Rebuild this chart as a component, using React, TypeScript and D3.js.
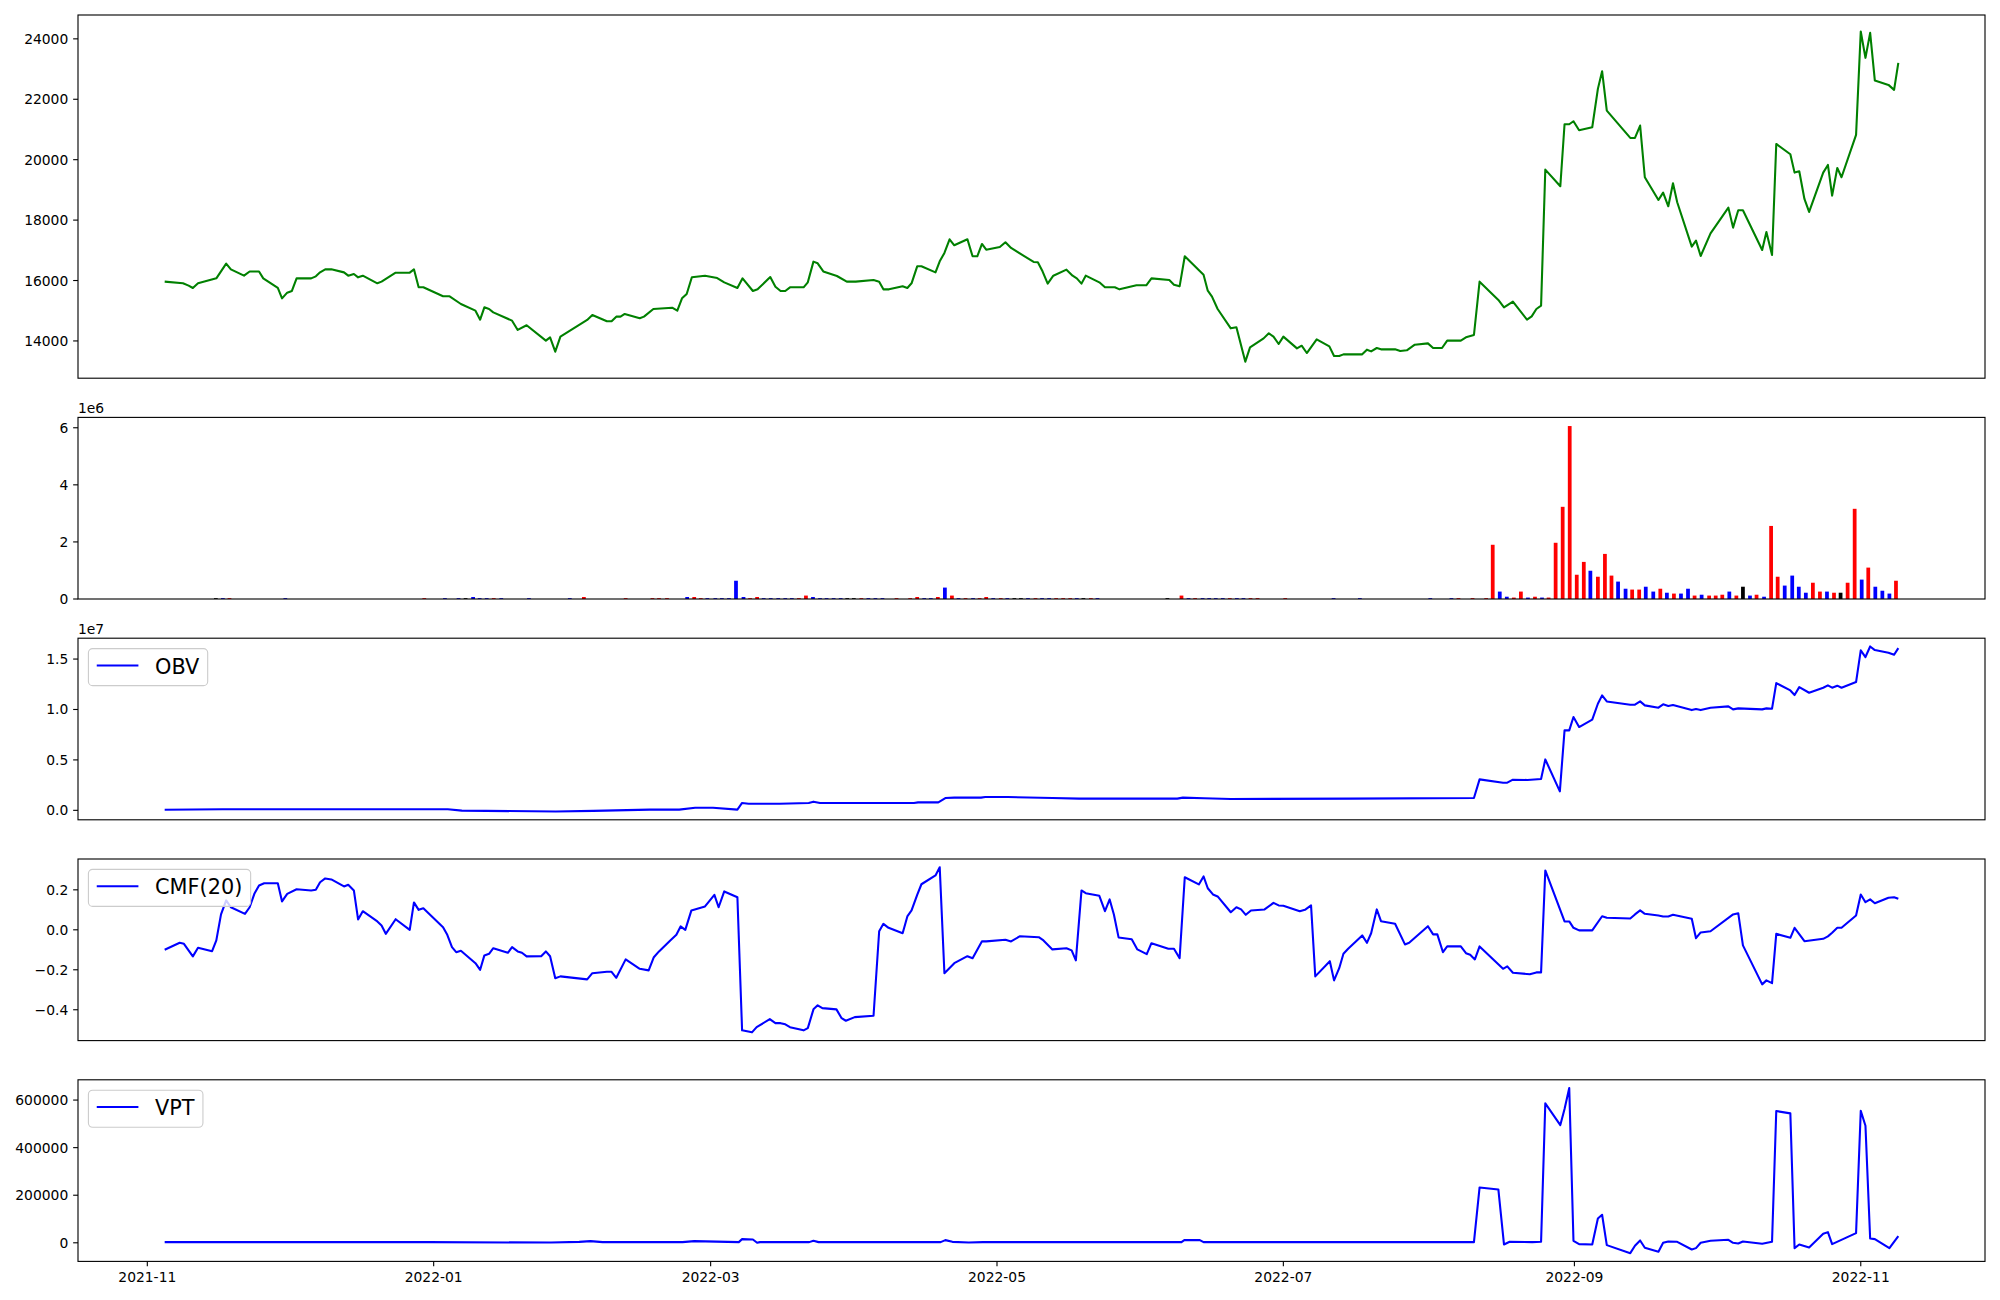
import React from "react";
import * as d3 from "d3";

// ---- data (x = days after 2021-11-01) ----
const BASE_DATE = Date.UTC(2021, 10, 1);
const xTickLabels = ["2021-11", "2022-01", "2022-03", "2022-05", "2022-07", "2022-09", "2022-11"];

const priceTicks = [14000, 16000, 18000, 20000, 22000, 24000];
const volumeTicks = [0, 2, 4, 6]; // x1e6
const obvTicks = [0, 0.5, 1.0, 1.5]; // x1e7
const cmfTicks = [-0.4, -0.2, 0.0, 0.2];
const vptTicks = [0, 200000, 400000, 600000];

const priceSeries: [number, number][] = [
  [3.7, 15963], [7.6, 15908], [8.8, 15830], [9.7, 15753], [10.8, 15908], [14.7, 16072], [16.8, 16559], [17.8, 16370],
  [20.6, 16160], [21.8, 16300], [23.8, 16300], [24.7, 16072], [27.8, 15753], [28.7, 15410], [29.8, 15598], [30.8, 15655],
  [31.8, 16072], [34.9, 16072], [35.9, 16138], [36.8, 16270], [37.9, 16370], [39.2, 16370], [41.9, 16270], [42.8, 16160],
  [44, 16215], [44.9, 16105], [45.9, 16160], [49, 15908], [49.9, 15963], [52.9, 16260], [55.9, 16260], [56.8, 16370],
  [57.8, 15775], [58.8, 15775], [63, 15477], [64.4, 15477], [66.8, 15223], [69.9, 15002], [70.9, 14704], [71.8, 15112],
  [72.8, 15057], [73.7, 14947], [77.7, 14671], [78.9, 14364], [80.8, 14518], [84.9, 14010], [85.8, 14120], [86.9, 13644],
  [88, 14142], [93.7, 14694], [94.8, 14859], [97.9, 14650], [98.9, 14650], [99.9, 14804], [100.8, 14804], [101.7, 14892],
  [104.9, 14749], [105.8, 14804], [107.8, 15057], [111.8, 15100], [112.9, 15002], [113.9, 15410], [114.9, 15554],
  [116, 16110], [118.8, 16160], [121.4, 16083], [122.9, 15940], [125.7, 15753], [126.8, 16072], [129, 15653], [130, 15708],
  [132.7, 16116], [133.8, 15796], [134.9, 15653], [135.9, 15653], [136.9, 15775], [139.8, 15775], [140.7, 15940],
  [141.9, 16625], [142.8, 16570], [144, 16300], [146.9, 16150], [149, 15963], [150.9, 15963], [154.7, 16018], [155.9, 15963],
  [156.8, 15708], [158, 15708], [160.9, 15808], [161.9, 15753], [162.8, 15908], [164, 16470], [164.9, 16470], [167.9, 16270],
  [168.8, 16636], [169.8, 16912], [170.9, 17365], [171.9, 17166], [174.7, 17365], [175.8, 16802], [176.8, 16802],
  [177.8, 17210], [178.7, 17022], [181.6, 17110], [182.8, 17265], [184, 17077], [188.8, 16614], [189.7, 16603],
  [190.7, 16305], [191.8, 15897], [193, 16160], [195.8, 16360], [197.1, 16160], [198, 16072], [199, 15897], [199.9, 16160],
  [202.8, 15940], [204, 15775], [206.1, 15775], [207.1, 15708], [210.7, 15841], [212.8, 15841], [213.9, 16072],
  [217.7, 16018], [218.7, 15863], [219.9, 15808], [221, 16802], [225, 16193], [225.9, 15664], [226.8, 15466], [228, 15057],
  [230.8, 14417], [232, 14450], [233.9, 13313], [234.9, 13787], [237.8, 14085], [238.9, 14252], [239.9, 14142], [241, 13899],
  [242, 14142], [244.9, 13754], [245.9, 13842], [247, 13600], [249.1, 14054], [251.8, 13821], [252.8, 13500], [253.9, 13500],
  [254.8, 13556], [258.8, 13556], [259.8, 13711], [260.7, 13655], [261.9, 13766], [262.8, 13722], [265.8, 13722],
  [266.9, 13667], [268.3, 13689], [270, 13876], [272.8, 13920], [273.9, 13766], [275.8, 13766], [276.9, 14010],
  [279.8, 14010], [280.9, 14120], [282.6, 14197], [283.8, 15963], [287.8, 15356], [289, 15112], [290.9, 15300],
  [293.9, 14704], [294.9, 14815], [295.9, 15057], [296.9, 15168], [297.8, 19672], [301, 19120], [301.9, 21173],
  [302.9, 21173], [303.8, 21273], [305, 20975], [307.8, 21074], [309, 22344], [309.9, 22929], [310.9, 21626],
  [315.9, 20720], [316.9, 20720], [318, 21129], [319, 19418], [321.9, 18667], [322.9, 18910], [324, 18458], [325, 19220],
  [325.9, 18590], [329, 17122], [329.9, 17320], [330.9, 16812], [333, 17563], [336.8, 18413], [337.8, 17751],
  [338.9, 18325], [339.9, 18325], [344, 17011], [344.9, 17607], [346.1, 16845], [347, 20521], [350, 20179], [350.9, 19572],
  [351.9, 19617], [353, 18700], [354, 18270], [357, 19572], [358, 19826], [358.9, 18811], [360, 19727], [360.9, 19418],
  [364, 20820], [365, 24243], [366, 23371], [367, 24199], [368, 22620], [370.9, 22476], [372.1, 22311], [373, 23205],
];

// [day, volume (millions), direction: 1 up(red) / -1 down(blue) / 0 flat(black)]
const volumeBars: [number, number, number][] = [
  [14.6, 0.03, 0], [16.1, 0.03, -1], [17.5, 0.03, 1], [29.4, 0.03, -1], [59, 0.03, 1], [63.4, 0.03, -1], [66.3, 0.03, -1],
  [67.8, 0.03, 0], [69.4, 0.07, -1], [70.8, 0.03, -1], [72.3, 0.03, -1], [73.8, 0.03, 1], [75.4, 0.03, -1], [81.3, 0.03, -1],
  [90, 0.03, -1], [93, 0.07, 1], [101.9, 0.03, 1], [107.6, 0.03, 1], [109, 0.03, 1], [110.7, 0.03, 1], [115, 0.07, -1],
  [116.5, 0.07, 1], [117.9, 0.03, 1], [119.3, 0.03, -1], [121, 0.03, -1], [122.4, 0.03, -1], [123.9, 0.03, -1],
  [125.4, 0.64, -1], [127, 0.07, -1], [128.4, 0.03, 1], [129.9, 0.07, 1], [131.3, 0.03, -1], [132.8, 0.03, -1],
  [134.4, 0.03, -1], [135.9, 0.03, -1], [137.3, 0.03, -1], [138.8, 0.03, 1], [140.3, 0.12, 1], [141.8, 0.07, -1],
  [143.3, 0.03, -1], [144.7, 0.03, -1], [146.2, 0.03, -1], [147.7, 0.03, -1], [149.1, 0.03, 0], [150.5, 0.03, 0],
  [152.1, 0.03, 1], [153.6, 0.03, -1], [155.1, 0.03, -1], [156.6, 0.03, -1], [159.6, 0.03, 1], [162.5, 0.03, 1],
  [164, 0.07, 1], [165.5, 0.03, -1], [166.9, 0.03, -1], [168.4, 0.07, 1], [169.9, 0.40, -1], [171.4, 0.12, 1],
  [172.8, 0.03, -1], [174.3, 0.03, 1], [175.9, 0.03, -1], [177.3, 0.03, 1], [178.7, 0.07, 1], [180.2, 0.03, -1],
  [181.8, 0.03, 1], [183.2, 0.03, -1], [184.7, 0.03, 0], [186.1, 0.03, 0], [187.6, 0.03, -1], [189.2, 0.03, 1],
  [190.6, 0.03, -1], [192.1, 0.03, -1], [193.6, 0.03, 1], [195.1, 0.03, 1], [196.6, 0.03, 1], [198, 0.03, -1],
  [199.4, 0.03, 0], [201, 0.03, 1], [202.4, 0.03, -1], [217.3, 0.03, 0], [220.3, 0.12, 1], [221.8, 0.03, -1],
  [223.2, 0.03, 1], [224.8, 0.03, -1], [226.2, 0.03, -1], [227.6, 0.03, -1], [229.1, 0.03, -1], [230.6, 0.03, 1],
  [232.1, 0.03, -1], [233.5, 0.03, -1], [235, 0.03, 1], [236.5, 0.03, 1], [242.4, 0.03, 1], [252.7, 0.03, -1],
  [258.3, 0.03, -1], [273.3, 0.03, -1], [277.8, 0.03, -1], [279.3, 0.03, 1], [282.3, 0.03, 1], [285.2, 0.03, 1],
  [286.6, 1.90, 1], [288.1, 0.26, -1], [289.6, 0.08, -1], [291.1, 0.05, 1], [292.6, 0.26, 1], [294.1, 0.05, -1],
  [295.6, 0.08, 1], [297.1, 0.05, -1], [298.5, 0.05, 1], [300, 1.97, 1], [301.5, 3.23, 1], [303, 6.06, 1],
  [304.5, 0.85, 1], [306, 1.30, 1], [307.4, 0.99, -1], [309, 0.78, 1], [310.5, 1.58, 1], [311.9, 0.82, 1],
  [313.3, 0.61, -1], [314.9, 0.36, -1], [316.3, 0.33, 1], [317.8, 0.33, 1], [319.2, 0.43, -1], [320.8, 0.26, -1],
  [322.3, 0.36, 1], [323.7, 0.22, -1], [325.2, 0.19, 1], [326.7, 0.19, -1], [328.2, 0.36, -1], [329.6, 0.12, 1],
  [331.1, 0.15, -1], [332.7, 0.12, 1], [334.1, 0.12, 1], [335.5, 0.15, 1], [337, 0.26, -1], [338.5, 0.12, 1],
  [339.9, 0.43, 0], [341.4, 0.12, -1], [342.8, 0.15, 1], [344.4, 0.08, -1], [345.9, 2.56, 1], [347.3, 0.78, 1],
  [348.8, 0.47, -1], [350.4, 0.82, -1], [351.8, 0.43, -1], [353.3, 0.22, -1], [354.8, 0.57, 1], [356.3, 0.26, 1],
  [357.8, 0.26, -1], [359.3, 0.22, 1], [360.7, 0.22, 0], [362.2, 0.57, 1], [363.7, 3.16, 1], [365.2, 0.68, -1],
  [366.6, 1.10, 1], [368.1, 0.43, -1], [369.6, 0.29, -1], [371.1, 0.19, -1], [372.5, 0.64, 1],
];

// OBV in units of 1e7
const obvSeries: [number, number][] = [
  [3.7, 0.005], [16, 0.01], [64, 0.01], [67, -0.003], [87, -0.012], [95, -0.005], [107, 0.007], [113.3, 0.007],
  [116.7, 0.026], [120.5, 0.026], [125.7, 0.007], [126.7, 0.073], [128.1, 0.066], [134.7, 0.066], [140.9, 0.073],
  [141.9, 0.086], [143.3, 0.073], [163.3, 0.073], [164.2, 0.079], [168.5, 0.079], [170, 0.122], [171.9, 0.126],
  [177.6, 0.126], [178.5, 0.132], [183.3, 0.132], [192.8, 0.122], [198.5, 0.116], [219.4, 0.116], [220.6, 0.126],
  [225.1, 0.119], [230.8, 0.112], [256.3, 0.116], [282.6, 0.122], [283.8, 0.307], [288.8, 0.274], [289.7, 0.274],
  [290.9, 0.304], [294, 0.301], [296.9, 0.311], [297.8, 0.505], [300.9, 0.188], [301.9, 0.793], [302.9, 0.793],
  [303.8, 0.925], [305, 0.826], [307.8, 0.899], [309, 1.057], [309.9, 1.14], [310.9, 1.08], [315.9, 1.047],
  [316.9, 1.047], [318, 1.08], [319, 1.041], [321.9, 1.018], [322.9, 1.051], [324, 1.034], [325, 1.044], [329, 0.994],
  [329.9, 1.004], [330.9, 0.994], [333, 1.018], [336.8, 1.031], [337.8, 1.001], [338.9, 1.011], [344, 1.001],
  [344.9, 1.011], [346.1, 1.008], [347, 1.262], [350, 1.189], [350.9, 1.143], [351.9, 1.222], [354, 1.166], [357, 1.216],
  [358, 1.239], [358.9, 1.216], [360, 1.236], [360.9, 1.216], [364, 1.272], [365, 1.586], [366, 1.52], [367, 1.625],
  [368, 1.589], [370.9, 1.563], [372.1, 1.543], [373, 1.609],
];

const cmfSeries: [number, number][] = [
  [3.7, -0.1], [6.9, -0.065], [7.8, -0.07], [9.7, -0.133], [10.8, -0.09], [13.8, -0.107], [14.7, -0.053], [15.7, 0.077],
  [16.8, 0.147], [17.8, 0.113], [20.8, 0.08], [21.8, 0.113], [22.8, 0.18], [23.8, 0.222], [24.9, 0.233], [27.8, 0.233],
  [28.7, 0.142], [29.8, 0.18], [31.8, 0.203], [34.9, 0.197], [35.9, 0.2], [36.8, 0.238], [37.9, 0.257], [39.2, 0.252],
  [41.9, 0.217], [42.8, 0.225], [44, 0.197], [44.9, 0.052], [45.9, 0.093], [49, 0.042], [49.9, 0.022], [50.8, -0.02],
  [52.9, 0.053], [55.9, 0.0], [56.8, 0.137], [57.8, 0.1], [58.8, 0.108], [63, 0.013], [63.9, -0.025], [64.9, -0.087],
  [65.8, -0.112], [66.8, -0.105], [69.9, -0.167], [70.9, -0.2], [71.8, -0.128], [72.8, -0.12], [73.7, -0.092],
  [76.8, -0.115], [77.7, -0.087], [78.9, -0.108], [79.8, -0.115], [80.8, -0.133], [83.9, -0.132], [84.9, -0.108],
  [85.8, -0.132], [86.9, -0.242], [88, -0.233], [93.7, -0.248], [94.8, -0.217], [97.9, -0.21], [98.9, -0.21],
  [99.9, -0.24], [101.9, -0.148], [104.9, -0.195], [106.8, -0.203], [107.9, -0.137], [109, -0.108], [111.4, -0.053],
  [112.7, -0.025], [113.6, 0.017], [114.6, 0.0], [115.9, 0.097], [118.8, 0.117], [120.8, 0.175], [121.7, 0.113],
  [122.9, 0.192], [125.7, 0.163], [126.7, -0.503], [128.8, -0.513], [129.8, -0.487], [132.6, -0.447], [133.8, -0.467],
  [134.9, -0.467], [135.9, -0.473], [136.9, -0.487], [139.8, -0.503], [140.7, -0.492], [141.9, -0.398], [142.8, -0.378],
  [143.8, -0.392], [146.8, -0.398], [147.9, -0.442], [148.8, -0.455], [150.7, -0.437], [154.7, -0.43], [155.9, -0.007],
  [156.8, 0.03], [157.9, 0.01], [160.9, -0.017], [161.9, 0.067], [162.8, 0.097], [164, 0.175], [164.9, 0.228],
  [167.9, 0.272], [168.8, 0.313], [169.8, -0.217], [171.9, -0.167], [174.7, -0.132], [175.8, -0.142], [177.8, -0.057],
  [178.7, -0.058], [182.8, -0.05], [184, -0.058], [185.9, -0.032], [189.9, -0.037], [190.9, -0.053], [192.8, -0.098],
  [195.8, -0.092], [196.9, -0.103], [197.8, -0.153], [199, 0.197], [199.9, 0.183], [202.8, 0.17], [204, 0.093],
  [205, 0.152], [205.9, 0.077], [206.9, -0.038], [209.7, -0.047], [210.9, -0.098], [212.9, -0.122], [213.9, -0.067],
  [217.5, -0.095], [218.7, -0.095], [219.9, -0.142], [221, 0.263], [224, 0.227], [225, 0.267], [225.9, 0.208],
  [227, 0.177], [228, 0.167], [230.8, 0.088], [232, 0.113], [233, 0.102], [234, 0.075], [235.1, 0.097], [238, 0.102],
  [239.9, 0.135], [241, 0.122], [242, 0.12], [245.5, 0.093], [246.6, 0.1], [247.9, 0.122], [248.8, -0.233],
  [251.9, -0.157], [252.8, -0.253], [253.9, -0.192], [254.8, -0.12], [255.8, -0.095], [258.8, -0.028], [259.8, -0.065],
  [260.7, -0.017], [261.9, 0.102], [262.8, 0.043], [265.8, 0.03], [267.9, -0.073], [268.8, -0.065], [272.8, 0.018],
  [273.9, -0.023], [274.8, -0.023], [276, -0.112], [276.9, -0.083], [279.8, -0.083], [280.9, -0.117], [281.8, -0.125],
  [282.8, -0.148], [283.8, -0.083], [288.8, -0.195], [289.7, -0.183], [290.9, -0.215], [294.5, -0.222], [295.9, -0.213],
  [296.9, -0.213], [297.8, 0.297], [301.9, 0.042], [302.9, 0.042], [303.8, 0.01], [305, -0.003], [307.8, -0.003],
  [309.9, 0.068], [310.9, 0.06], [315.9, 0.057], [316.9, 0.077], [318, 0.097], [319, 0.08], [321.9, 0.072],
  [322.9, 0.067], [324, 0.067], [325, 0.075], [329, 0.055], [329.9, -0.042], [330.9, -0.013], [333, -0.007],
  [337.8, 0.077], [338.9, 0.083], [339.9, -0.078], [344, -0.273], [344.9, -0.253], [346.1, -0.267], [347, -0.02],
  [350, -0.04], [350.9, 0.01], [353, -0.057], [357, -0.045], [358, -0.033], [358.9, -0.015], [360, 0.01], [360.9, 0.01],
  [364, 0.072], [365, 0.177], [366, 0.138], [367, 0.152], [368, 0.133], [370.9, 0.16], [372.1, 0.163], [373, 0.155],
];

const vptSeries: [number, number][] = [
  [3.7, 2800], [60, 2800], [86, 1000], [92, 4000], [94.4, 7000], [97, 2800], [114, 2800], [116.5, 7000], [126, 2800],
  [126.7, 15400], [129, 14000], [129.9, 0], [130.5, 2800], [141, 2800], [141.9, 8400], [143, 2800], [169, 2800],
  [170, 11200], [171.5, 4000], [175, 1500], [178, 2800], [220.3, 2800], [220.9, 11200], [224.2, 11200], [225, 2800],
  [282.6, 2800], [283.8, 232700], [287.8, 224300], [289, -7000], [290.2, 4200], [295, 2800], [296.9, 4200],
  [297.8, 586000], [301, 495000], [301.9, 562200], [302.9, 650500], [303.8, 8400], [305, -5600], [307.8, -7000],
  [309, 102300], [309.9, 117800], [310.9, -9800], [315.9, -43500], [316.9, -12600], [318, 9800], [319, -21000],
  [321.9, -37900], [322.9, 0], [324, 5600], [325.9, 4200], [329, -28000], [329.9, -22400], [330.9, 0], [333, 8400],
  [336.8, 12600], [337.8, 0], [338.9, -2800], [339.9, 5600], [344, -4200], [346.1, 4200], [347, 553800], [350, 544000],
  [350.9, -22400], [351.9, -7000], [354, -19600], [357, 37900], [358, 44900], [358.9, -5600], [364, 40700],
  [365, 555200], [366, 492100], [367, 18200], [368, 15400], [371.1, -22400], [373, 28000],
];

// ---- helpers ----
const FONT = "DejaVu Sans";
const dayToDate = (d: number) => new Date(BASE_DATE + d * 86400000);
const padExtent = (vals: number[]): [number, number] => {
  const lo = d3.min(vals) as number;
  const hi = d3.max(vals) as number;
  const p = (hi - lo) * 0.05;
  return [lo - p, hi + p];
};
const fmtMinus = (s: string) => s.replace("-", "\u2212");

function measure(text: string, size: number): number {
  if (typeof document === "undefined") return text.length * size * 0.6;
  const ctx = document.createElement("canvas").getContext("2d");
  if (!ctx) return text.length * size * 0.6;
  ctx.font = `${size}px "${FONT}"`;
  return ctx.measureText(text).width;
}

const TICK_FS = 13.89;
const LEGEND_FS = 20.83;
const TICK_LEN = 4.86;
const TICK_PAD = 4.86;
const SPINE_W = 1.11;
const LINE_W = 2.08;

export default function App() {
  const L = 78;
  const R = 1985;
  const top0 = 15;
  const h = 181.6;
  const gap = 39.2;
  const boxes = [
    { top: top0, bottom: top0 + 2 * h },
  ];
  for (let i = 1; i < 5; i++) {
    const t = boxes[i - 1].bottom + gap;
    boxes.push({ top: t, bottom: t + h });
  }

  const allDays = priceSeries.map((p) => p[0]);
  const [xd0, xd1] = padExtent(allDays);
  const x = d3.scaleUtc().domain([dayToDate(xd0), dayToDate(xd1)]).range([L, R]);
  const pxPerDay = (R - L) / (xd1 - xd0);

  const yPrice = d3.scaleLinear().domain(padExtent(priceSeries.map((p) => p[1]))).range([boxes[0].bottom, boxes[0].top]);
  const volMax = d3.max(volumeBars, (b) => b[1]) as number;
  const yVol = d3.scaleLinear().domain([0, volMax * 1.05]).range([boxes[1].bottom, boxes[1].top]);
  const yObv = d3.scaleLinear().domain(padExtent(obvSeries.map((p) => p[1]))).range([boxes[2].bottom, boxes[2].top]);
  const yCmf = d3.scaleLinear().domain(padExtent(cmfSeries.map((p) => p[1]))).range([boxes[3].bottom, boxes[3].top]);
  const yVpt = d3.scaleLinear().domain(padExtent(vptSeries.map((p) => p[1]))).range([boxes[4].bottom, boxes[4].top]);

  const mkLine = (y: d3.ScaleLinear<number, number>) =>
    d3.line<[number, number]>().x((p) => x(dayToDate(p[0]))).y((p) => y(p[1]));

  const dirColor = (d: number) => (d > 0 ? "#ff0000" : d < 0 ? "#0000ff" : "#000000");

  const yAxis = (
    y: d3.ScaleLinear<number, number>,
    ticks: number[],
    fmt: (v: number) => string,
    key: string
  ) => (
    <g key={key}>
      {ticks.map((t) => {
        const yy = y(t);
        return (
          <g key={t}>
            <line x1={L - TICK_LEN} x2={L} y1={yy} y2={yy} stroke="#000" strokeWidth={SPINE_W} />
            <text
              x={L - TICK_LEN - TICK_PAD}
              y={yy + 5}
              textAnchor="end"
              fontSize={TICK_FS}
              fontFamily={FONT}
              fill="#000"
            >
              {fmt(t)}
            </text>
          </g>
        );
      })}
    </g>
  );

  const frame = (b: { top: number; bottom: number }, key: string) => (
    <rect key={key} x={L} y={b.top} width={R - L} height={b.bottom - b.top} fill="none" stroke="#000" strokeWidth={SPINE_W} />
  );

  const legend = (b: { top: number }, label: string, key: string) => {
    const pad = 0.4 * LEGEND_FS;
    const handle = 2.0 * LEGEND_FS;
    const hpad = 0.8 * LEGEND_FS;
    const tw = measure(label, LEGEND_FS);
    const bx = L + 0.5 * LEGEND_FS;
    const by = b.top + 0.5 * LEGEND_FS;
    const bw = pad * 2 + handle + hpad + tw;
    const bh = 37;
    return (
      <g key={key}>
        <rect x={bx} y={by} width={bw} height={bh} rx={4.2} ry={4.2} fill="#ffffff" fillOpacity={0.8} stroke="#cccccc" strokeWidth={SPINE_W} />
        <line x1={bx + pad} x2={bx + pad + handle} y1={by + 16.8} y2={by + 16.8} stroke="#0000ff" strokeWidth={LINE_W} />
        <text x={bx + pad + handle + hpad} y={by + 25} fontSize={LEGEND_FS} fontFamily={FONT} fill="#000">
          {label}
        </text>
      </g>
    );
  };

  const barW = 0.8 * pxPerDay;

  return (
    <svg
      width={2000}
      height={1300}
      style={{ position: "absolute", left: 0, top: 0, background: "#ffffff" }}
      xmlns="http://www.w3.org/2000/svg"
    >
      <rect x={0} y={0} width={2000} height={1300} fill="#ffffff" />

      {/* Panel 1: price */}
      <path d={mkLine(yPrice)(priceSeries) || ""} fill="none" stroke="#008000" strokeWidth={LINE_W} strokeLinejoin="round" />
      {frame(boxes[0], "f0")}
      {yAxis(yPrice, priceTicks, (v) => String(v), "a0")}

      {/* Panel 2: volume bars */}
      {volumeBars.map((b, i) => {
        const cx = x(dayToDate(b[0]));
        const y0 = yVol(0);
        const y1 = yVol(b[1]);
        return <rect key={i} x={cx - barW / 2} y={y1} width={barW} height={Math.max(0, y0 - y1)} fill={dirColor(b[2])} />;
      })}
      {frame(boxes[1], "f1")}
      {yAxis(yVol, volumeTicks, (v) => String(v), "a1")}
      <text x={L} y={boxes[1].top - 4} fontSize={TICK_FS} fontFamily={FONT} fill="#000">1e6</text>

      {/* Panel 3: OBV */}
      <path d={mkLine(yObv)(obvSeries) || ""} fill="none" stroke="#0000ff" strokeWidth={LINE_W} strokeLinejoin="round" />
      {frame(boxes[2], "f2")}
      {yAxis(yObv, obvTicks, (v) => v.toFixed(1), "a2")}
      <text x={L} y={boxes[2].top - 4} fontSize={TICK_FS} fontFamily={FONT} fill="#000">1e7</text>
      {legend(boxes[2], "OBV", "l2")}

      {/* Panel 4: CMF */}
      <path d={mkLine(yCmf)(cmfSeries) || ""} fill="none" stroke="#0000ff" strokeWidth={LINE_W} strokeLinejoin="round" />
      {frame(boxes[3], "f3")}
      {yAxis(yCmf, cmfTicks, (v) => fmtMinus(v.toFixed(1)), "a3")}
      {legend(boxes[3], "CMF(20)", "l3")}

      {/* Panel 5: VPT */}
      <path d={mkLine(yVpt)(vptSeries) || ""} fill="none" stroke="#0000ff" strokeWidth={LINE_W} strokeLinejoin="round" />
      {frame(boxes[4], "f4")}
      {yAxis(yVpt, vptTicks, (v) => String(v), "a4")}
      {legend(boxes[4], "VPT", "l4")}

      {/* shared x axis on bottom panel */}
      {xTickLabels.map((lab) => {
        const [yy, mm] = lab.split("-").map(Number);
        const xx = x(new Date(Date.UTC(yy, mm - 1, 1)));
        const b = boxes[4].bottom;
        return (
          <g key={lab}>
            <line x1={xx} x2={xx} y1={b} y2={b + TICK_LEN} stroke="#000" strokeWidth={SPINE_W} />
            <text x={xx} y={b + 20.8} textAnchor="middle" fontSize={TICK_FS} fontFamily={FONT} fill="#000">
              {lab}
            </text>
          </g>
        );
      })}
    </svg>
  );
}
